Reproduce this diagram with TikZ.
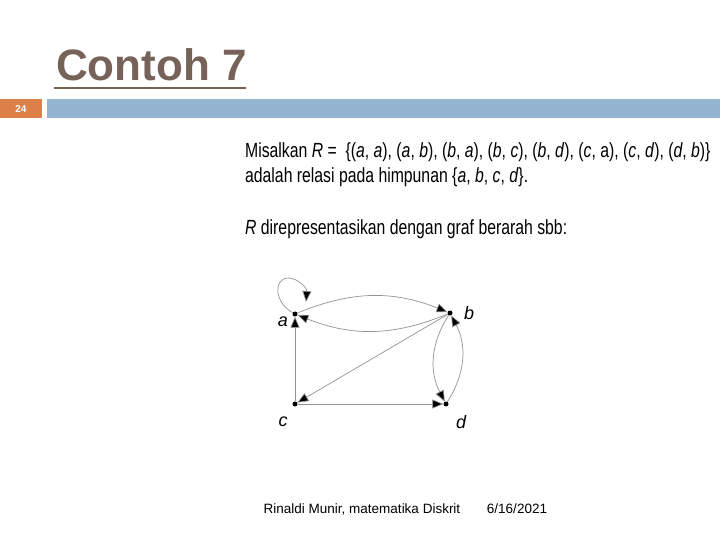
\documentclass[tikz,border=0pt]{standalone}
\usepackage{fontspec}
\setmainfont{Liberation Sans}
\usetikzlibrary{arrows.meta}
\definecolor{brn}{RGB}{118,98,88}
\definecolor{org}{RGB}{221,128,71}
\definecolor{blu}{RGB}{148,180,208}
\begin{document}
\begin{tikzpicture}[x=1pt,y=-1pt,
  vtx/.style={circle,fill=black,inner sep=0pt,minimum size=5pt},
  lbl/.style={font=\fontsize{18}{20}\selectfont\itshape},
  edge/.style={draw=gray!85,line width=0.7pt,-{Triangle[length=11pt,width=9pt,fill=black]}},
  txt/.style={anchor=west,inner sep=0pt,xscale=0.77,transform shape,font=\fontsize{20.5}{22}\selectfont}]
\useasboundingbox (0,0) rectangle (720,540);
\fill[white] (0,0) rectangle (720,540);
\node[anchor=base west,inner sep=0pt,text=brn,font=\fontsize{44}{48}\selectfont\bfseries] (title) at (56,81) {Contoh 7};
\draw[brn,line width=2pt] (54,88) -- (246,88);
\fill[org] (0,99) rectangle (42,118);
\node[text=white,font=\fontsize{10}{12}\selectfont\bfseries] (num) at (21,109) {24};
\fill[blu] (47,99) rectangle (720,118);
\node[txt] (l1) at (245,152) {Misalkan \textit{R} = \ \{(\textit{a}, \textit{a}), (\textit{a}, \textit{b}), (\textit{b}, \textit{a}), (\textit{b}, \textit{c}), (\textit{b}, \textit{d}), (\textit{c}, a), (\textit{c}, \textit{d}), (\textit{d}, \textit{b})\}};
\node[txt] (l2) at (245,177) {adalah relasi pada himpunan \{\textit{a}, \textit{b}, \textit{c}, \textit{d}\}.};
\node[txt] (l3) at (245,229) {\textit{R} direpresentasikan dengan graf berarah sbb:};
\node[vtx] (a) at (295,314) {};
\node[vtx] (b) at (450,313) {};
\node[vtx] (c) at (295,404) {};
\node[vtx] (d) at (446,404) {};
\node[lbl] at (283,322) {a};
\node[lbl] at (469,313) {b};
\node[lbl] at (283,422) {c};
\node[lbl] at (461,422) {d};
\draw[edge] (a) .. controls (270,300) and (275,270) .. (296,280) .. controls (305,285) and (307,290) .. (306,302);
\draw[edge] (a) to[bend left=22] (b);
\draw[edge] (b) to[bend left=22] (a);
\draw[edge] (b) -- (c);
\draw[edge] (b) to[bend right=30] (d);
\draw[edge] (d) to[bend right=30] (b);
\draw[edge] (c) -- (a);
\draw[edge] (c) -- (d);
\node[font=\fontsize{13.5}{15}\selectfont] (foot) at (362,509) {Rinaldi Munir, matematika Diskrit};
\node[font=\fontsize{13.5}{15}\selectfont] (date) at (517,509) {6/16/2021};
\end{tikzpicture}
\end{document}
